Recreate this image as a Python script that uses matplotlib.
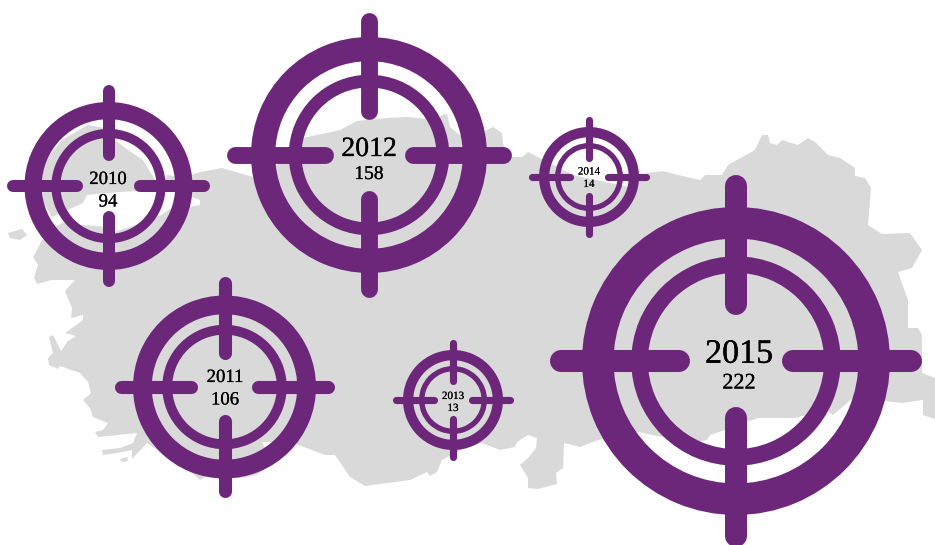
import matplotlib
matplotlib.use("Agg")
import matplotlib.pyplot as plt
import matplotlib.patheffects as pe
from matplotlib.patches import Annulus, Polygon

years = [2010, 2011, 2012, 2013, 2014, 2015]
attacks = [94, 106, 158, 13, 14, 222]

# layout in pixels
centers_x = [108.5, 224.5, 369, 453, 589, 736]
centers_y = [186, 387, 155, 400, 177, 361]
radii = [84, 91.5, 118, 50, 50, 154]
year_sizes = [13.5, 13.5, 20, 8, 8, 24.5]
value_sizes = [13.5, 13.5, 14, 8, 8, 16]
year_y = [179.5, 377.5, 149.5, 396.5, 172, 354.5]
value_y = [202, 400, 174.5, 408.5, 184.5, 384]
text_x = [108, 225, 369, 453, 589, 739]

anatolia_x = [253, 222, 200, 185, 167, 162, 178, 200, 200, 190, 170, 163, 153, 135, 115, 100, 80, 65, 52,
              42, 36, 33, 38, 34, 37, 52, 75, 65, 72, 71, 83, 83, 65, 76, 68, 61, 53, 49, 53, 48, 49, 58, 60,
              80, 88, 91, 83, 90, 93, 108, 103, 95, 98, 137, 133, 120, 102, 103, 117, 132, 132, 147, 192, 200,
              213, 240, 257, 272, 265, 262, 285, 293, 325, 335, 350, 365, 410, 427, 430, 437, 442, 465, 482,
              500, 515, 517, 528, 537, 536, 528, 520, 528, 528, 538, 557, 556, 563, 564, 580, 598, 638, 692,
              707, 710, 725, 758, 795, 825, 833, 853, 875, 902, 923, 923, 935, 935, 922, 922, 918, 908, 908,
              898, 912, 922, 910, 882, 868, 871, 865, 855, 855, 840, 828, 815, 808, 798, 782, 777, 770, 768,
              762, 755, 728, 722, 705, 700, 678, 663, 647, 630, 610, 573, 540, 528, 522, 508, 503, 502, 493,
              487, 462, 450, 447, 442, 437, 408, 387, 357, 340, 303, 277]
anatolia_y = [177, 168, 172, 177, 175, 185, 192, 200, 205, 207, 209, 214, 218, 225, 232, 226, 225, 222, 228,
              240, 252, 257, 265, 278, 284, 280, 280, 291, 308, 318, 315, 320, 333, 336, 341, 351, 335, 337,
              353, 358, 365, 369, 366, 373, 382, 393, 400, 408, 417, 423, 430, 432, 437, 433, 443, 448, 450,
              455, 453, 450, 459, 443, 473, 480, 473, 478, 475, 462, 448, 442, 442, 443, 455, 455, 477, 486,
              480, 472, 476, 472, 460, 448, 443, 450, 447, 442, 435, 438, 448, 458, 465, 478, 488, 489, 484,
              473, 468, 443, 447, 440, 432, 443, 440, 435, 430, 418, 418, 410, 415, 398, 400, 403, 400, 415,
              419, 378, 373, 335, 328, 328, 300, 272, 268, 250, 233, 234, 225, 188, 178, 176, 168, 158, 155,
              142, 138, 145, 140, 145, 143, 135, 135, 150, 165, 175, 175, 180, 175, 171, 173, 187, 183, 175,
              158, 152, 157, 157, 143, 133, 127, 130, 137, 127, 114, 115, 120, 117, 118, 121, 130, 138, 165]
thrace_x = [43, 42, 62, 88, 105, 115, 128, 143, 155, 157, 120, 87, 83, 52, 43]
thrace_y = [202, 165, 140, 125, 128, 140, 150, 160, 180, 190, 192, 195, 203, 217, 202]
island1_x = [8, 22, 27, 20, 10]
island1_y = [233, 229, 235, 240, 238]
island2_x = [120, 127, 128, 122]
island2_y = [459, 457, 461, 462]

PURPLE = "#6c267a"
GREY = "#d9d9d9"
DPI = 100


def draw_land(ax, xs, ys):
    ax.add_patch(Polygon(list(zip(xs, ys)), closed=True, fc=GREY, ec="none", zorder=1))


def draw_target(ax, cx, cy, r):
    ax.add_patch(Annulus((cx, cy), r, r * 0.205, fc=PURPLE, ec="none", zorder=2))
    ax.add_patch(Annulus((cx, cy), r * 0.68, r * 0.108, fc=PURPLE, ec="none", zorder=2))

    # four arms, round caps stick out half a line width past the end points
    w = r * 0.143
    start = r * 0.30 + w / 2
    end = r * 1.205 - w / 2
    for dx, dy in [(1, 0), (-1, 0), (0, 1), (0, -1)]:
        ax.plot([cx + dx * start, cx + dx * end], [cy + dy * start, cy + dy * end],
                color=PURPLE, lw=w * 72 / DPI, solid_capstyle="round", zorder=3)


def draw_label(ax, x, y, s, size):
    t = ax.text(x, y, s, ha="center", va="center", fontsize=size,
                family="Liberation Serif", color="black", zorder=4)
    # the original face is a bit heavier than Liberation Serif
    t.set_path_effects([pe.withStroke(linewidth=size * 0.01, foreground="black")])


fig = plt.figure(figsize=(9.35, 5.45), dpi=DPI)
ax = fig.add_axes([0, 0, 1, 1])
ax.set_xlim(0, 935)
ax.set_ylim(545, 0)
ax.axis("off")

draw_land(ax, anatolia_x, anatolia_y)
draw_land(ax, thrace_x, thrace_y)
draw_land(ax, island1_x, island1_y)
draw_land(ax, island2_x, island2_y)

for i in range(len(years)):
    draw_target(ax, centers_x[i], centers_y[i], radii[i])
    draw_label(ax, text_x[i], year_y[i], str(years[i]), year_sizes[i])
    draw_label(ax, text_x[i], value_y[i], str(attacks[i]), value_sizes[i])

fig.savefig("out.png", dpi=DPI)
